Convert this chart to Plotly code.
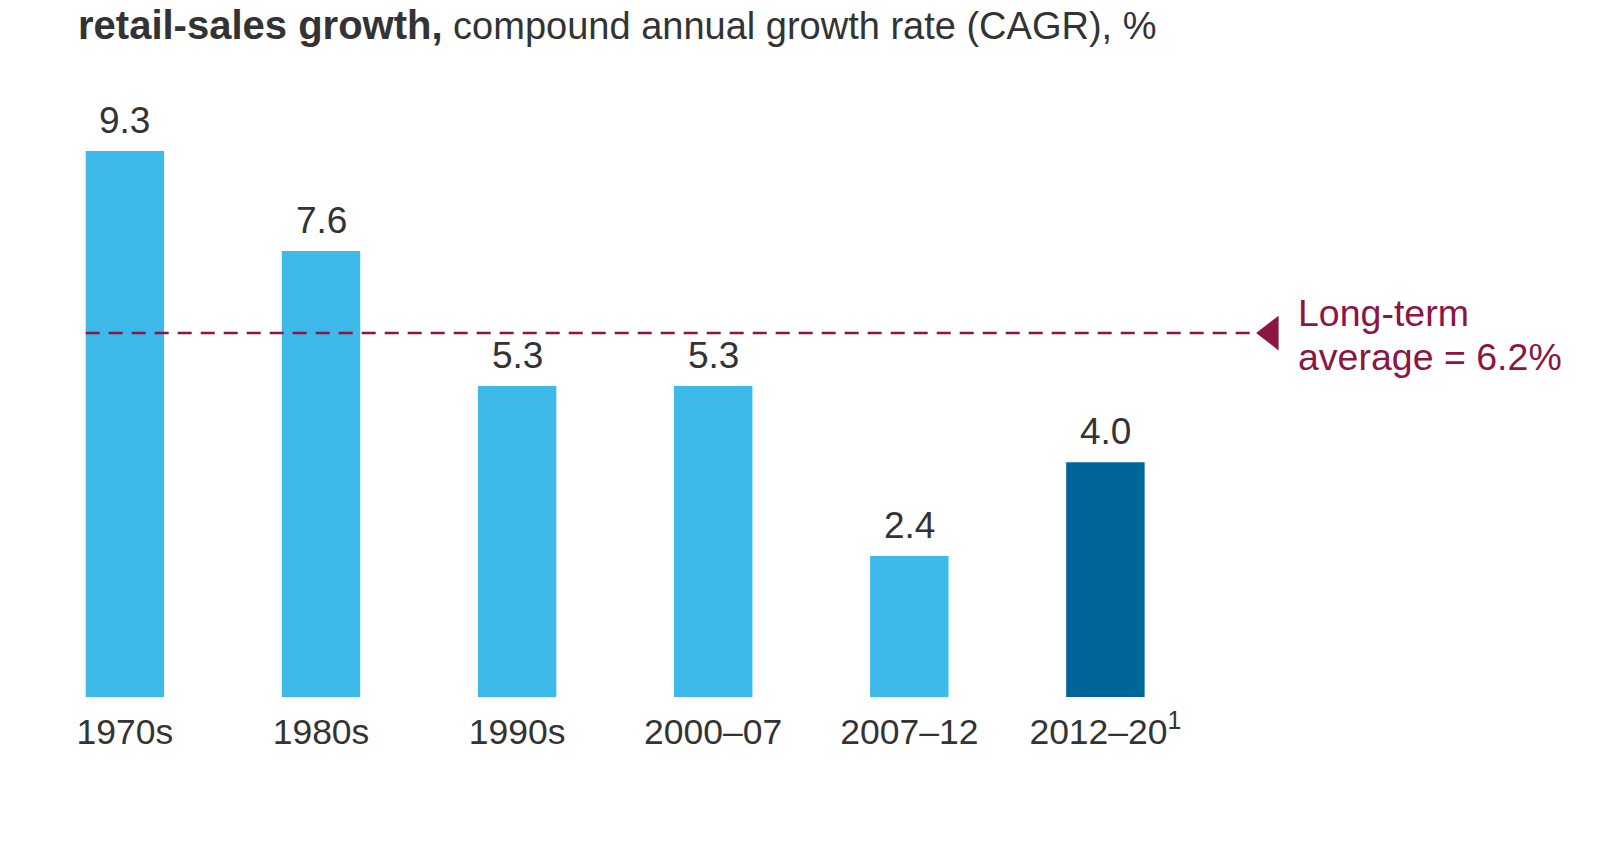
import plotly.graph_objects as go

periods = ["1970s", "1980s", "1990s", "2000–07", "2007–12", "2012–20"]
tick_labels = ["1970s", "1980s", "1990s", "2000–07", "2007–12", "2012–20<sup>1</sup>"]
growth = [9.3, 7.6, 5.3, 5.3, 2.4, 4.0]
long_term_avg = 6.2
avg_label = ["Long-term", "average = 6.2%"]

light_blue = "#3DB9EA"
dark_blue = "#006699"
crimson = "#8C1544"
text_col = "#333333"
font_family = "Liberation Sans, Arial, Helvetica, sans-serif"

x_pos = list(range(len(periods)))
bar_colors = [light_blue] * (len(periods) - 1) + [dark_blue]

# pixel geometry of the plot area
x0_px, step_px = 116.9, 196.1
base_px, unit_px = 689, 58.7

fig = go.Figure()
fig.add_trace(go.Bar(
    x=x_pos, y=growth, width=0.4,
    marker=dict(color=bar_colors, line=dict(width=0)),
    hoverinfo="skip",
))

# long-term average dashed line + arrow head
fig.add_trace(go.Scatter(
    x=[-0.2, 5.75], y=[long_term_avg, long_term_avg],
    mode="lines", line=dict(color=crimson, width=2.5, dash="14px,9px"),
    hoverinfo="skip",
))
fig.add_trace(go.Scatter(
    x=[5.845], y=[long_term_avg], mode="markers",
    marker=dict(symbol="triangle-left", size=30, color=crimson),
    hoverinfo="skip",
))

# value labels
for xi, v in zip(x_pos, growth):
    fig.add_annotation(
        x=xi, y=v, text=f"{v:.1f}", showarrow=False,
        yanchor="bottom", yshift=8,
        font=dict(size=37, color=text_col, family=font_family),
    )

for line, shift in zip(avg_label, [20, -24]):
    fig.add_annotation(
        x=5.97, y=long_term_avg, xanchor="left", yanchor="middle", align="left",
        text=line, showarrow=False, yshift=shift,
        font=dict(size=37.5, color=crimson, family=font_family),
    )

fig.update_layout(
    width=1600, height=859,
    margin=dict(l=0, r=0, t=0, b=859 - base_px),
    plot_bgcolor="white", paper_bgcolor="white",
    showlegend=False,
    font=dict(family=font_family, color=text_col, size=35),
    title=dict(
        text='<b><span style="font-size:40px">retail-sales growth,</span></b>'
             ' compound annual growth rate (CAGR), %',
        x=70 / 1600, xanchor="left", xref="paper",
        y=1 - 18 / 859, yanchor="middle",
        font=dict(size=38, color=text_col, family=font_family),
    ),
    xaxis=dict(
        range=[-x0_px / step_px, (1600 - x0_px) / step_px],
        tickmode="array", tickvals=x_pos, ticktext=tick_labels,
        showgrid=False, zeroline=False, showline=False, ticks="",
        ticklabelstandoff=10,
        tickfont=dict(size=35.5, color=text_col),
    ),
    yaxis=dict(
        range=[0, base_px / unit_px], visible=False, showgrid=False, zeroline=False,
    ),
)

fig.write_html("out.html")
